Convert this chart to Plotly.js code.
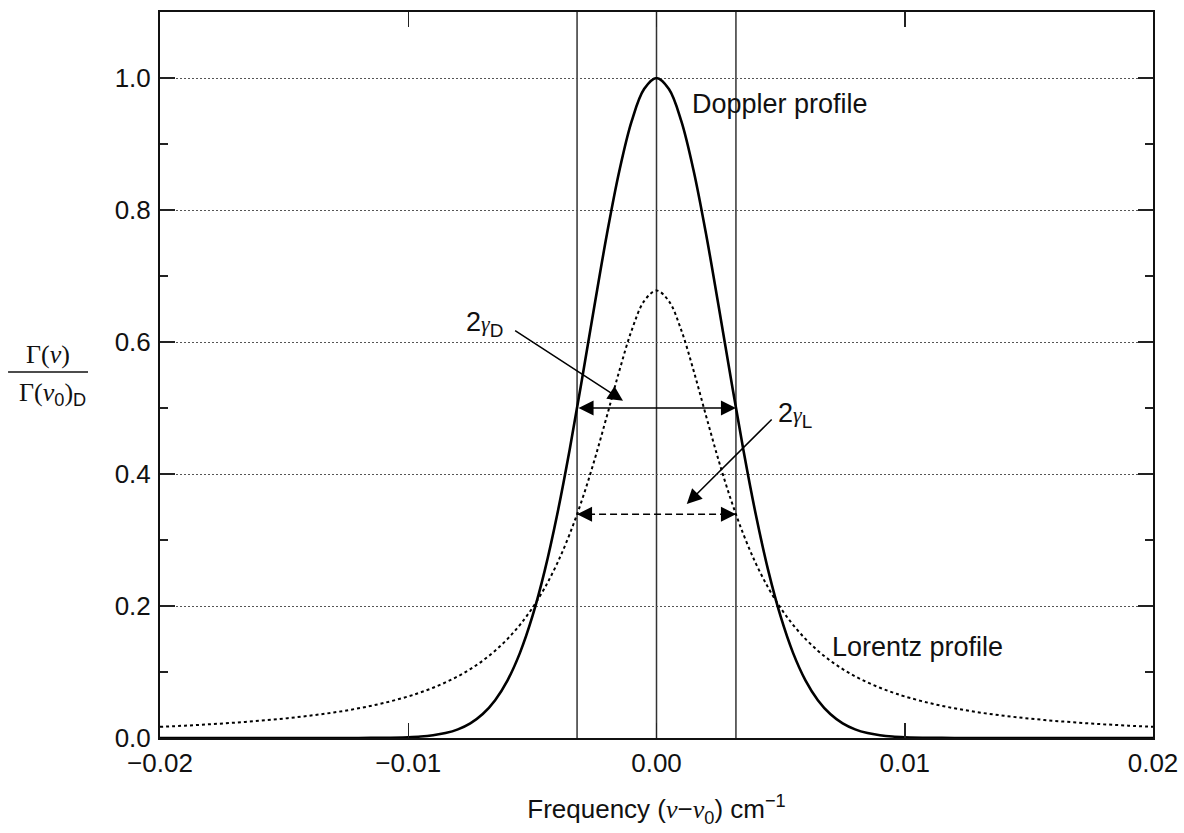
<!DOCTYPE html>
<html><head><meta charset="utf-8">
<script src="https://cdn.plot.ly/plotly-3.0.1.min.js"></script>
<style>html,body{margin:0;padding:0;background:#fff}</style>
</head><body><div id="chart" style="width:1184px;height:833px"></div>
<script>
// Frequency offset (nu - nu0), cm^-1 (finer sampling near line centre)
const freq = [-0.020,-0.019,-0.018,-0.017,-0.016,-0.015,-0.014,-0.013,-0.012,-0.011,
  -0.0100,-0.0095,-0.0090,-0.0085,-0.0080,-0.0075,-0.0070,-0.0065,-0.0060,-0.0055,
  -0.0050,-0.0045,-0.0040,-0.0035,-0.0030,-0.0025,-0.0020,-0.0015,-0.0010,-0.0005,
  0.0000,
  0.0005,0.0010,0.0015,0.0020,0.0025,0.0030,0.0035,0.0040,0.0045,0.0050,
  0.0055,0.0060,0.0065,0.0070,0.0075,0.0080,0.0085,0.0090,0.0095,0.0100,
  0.011,0.012,0.013,0.014,0.015,0.016,0.017,0.018,0.019,0.020];
// Doppler profile (normalised to its peak)
const doppler = [0,0,0,0,0,0,0,0,0.0001,0.0003,
  0.0012,0.0022,0.0042,0.0075,0.0131,0.0222,0.0363,0.0573,0.0874,0.1290,
  0.1841,0.2539,0.3386,0.4364,0.5438,0.6550,0.7628,0.8587,0.9346,0.9832,
  1.0000,
  0.9832,0.9346,0.8587,0.7628,0.6550,0.5438,0.4364,0.3386,0.2539,0.1841,
  0.1290,0.0874,0.0573,0.0363,0.0222,0.0131,0.0075,0.0042,0.0022,0.0012,
  0.0003,0.0001,0,0,0,0,0,0,0,0];
// Lorentz profile (same area, same half width)
const lorentz = [0.0169,0.0187,0.0208,0.0232,0.0261,0.0295,0.0337,0.0387,0.0450,0.0529,
  0.0630,0.0691,0.0761,0.0842,0.0935,0.1044,0.1172,0.1323,0.1501,0.1715,
  0.1970,0.2277,0.2646,0.3087,0.3608,0.4210,0.4876,0.5559,0.6177,0.6618,
  0.6780,
  0.6618,0.6177,0.5559,0.4876,0.4210,0.3608,0.3087,0.2646,0.2277,0.1970,
  0.1715,0.1501,0.1323,0.1172,0.1044,0.0935,0.0842,0.0761,0.0691,0.0630,
  0.0529,0.0450,0.0387,0.0337,0.0295,0.0261,0.0232,0.0208,0.0187,0.0169];
// Half widths and half maxima
const gammaD = 0.0032;
const gammaL = 0.0032;
const dopplerHalfMax = 0.5;
const lorentzHalfMax = 0.339;
const xTickVals = [-0.02,-0.01,0.00,0.01,0.02];
const yTickVals = [0.0,0.2,0.4,0.6,0.8,1.0];

const SANS = 'Liberation Sans, Arial, Helvetica, sans-serif';
const SERIF = 'Liberation Serif, Times New Roman, serif';
const FS = 26;
const LFS = 27;

const traces = [
  {x: freq, y: lorentz, mode: 'lines', line: {color: '#000', width: 2, dash: 'dot', shape: 'spline'}, name: 'Lorentz profile', hoverinfo: 'skip'},
  {x: freq, y: doppler, mode: 'lines', line: {color: '#000', width: 2.6, shape: 'spline'}, name: 'Doppler profile', hoverinfo: 'skip'},
  {x: [-gammaL, gammaL], y: [lorentzHalfMax, lorentzHalfMax], mode: 'lines', line: {color: '#000', width: 1.5, dash: '7px,4px'}, hoverinfo: 'skip', name: '2γL'}
];

const vline = (xv) => ({type: 'line', xref: 'x', yref: 'paper', x0: xv, x1: xv, y0: 0, y1: 1, line: {color: '#333', width: 1.5}, layer: 'below'});

const head = {text: '', showarrow: true, arrowhead: 2, arrowsize: 2, arrowwidth: 1.5, arrowcolor: '#000', standoff: 0, startstandoff: 0, xref: 'x', yref: 'y'};

const layout = {
  width: 1184, height: 833,
  margin: {l: 160, r: 31, t: 12, b: 95},
  paper_bgcolor: '#fff', plot_bgcolor: '#fff',
  showlegend: false,
  font: {family: SANS, size: FS, color: '#111'},
  xaxis: {
    range: [-0.02, 0.02], tickvals: xTickVals, tickformat: '.2f',
    ticks: 'inside', ticklen: 15, tickwidth: 1.5, tickcolor: '#222',
    showline: true, linecolor: '#111', linewidth: 2, mirror: 'ticks',
    showgrid: false, zeroline: false, ticklabelstandoff: 1,
    tickfont: {family: SANS, size: FS, color: '#111'},
    title: {text: 'Frequency (<span style="font-family:' + SERIF + '"><i>ν</i></span>−<span style="font-family:' + SERIF + '"><i>ν</i></span><sub>0</sub>) cm<sup>−1</sup>', font: {family: SANS, size: FS, color: '#111'}, standoff: 23}
  },
  yaxis: {
    range: [0, 1.1], tickvals: yTickVals, tickformat: '.1f',
    ticks: 'inside', ticklen: 15, tickwidth: 1.5, tickcolor: '#222',
    showline: true, linecolor: '#111', linewidth: 2, mirror: 'ticks',
    showgrid: true, gridcolor: '#555', gridwidth: 1, griddash: '2px,2px',
    zeroline: false, ticklabelstandoff: 2,
    tickfont: {family: SANS, size: FS, color: '#111'},
    minor: {dtick: 0.1, ticks: 'inside', ticklen: 8, tickwidth: 1.5, tickcolor: '#222', showgrid: false}
  },
  shapes: [
    vline(-gammaD), vline(0), vline(gammaD),
    {type: 'line', xref: 'paper', yref: 'paper', x0: -0.153, x1: -0.0725, y0: 0.504, y1: 0.504, line: {color: '#111', width: 1.5}}
  ],
  annotations: [
    // Doppler full width (solid, double headed)
    Object.assign({}, head, {x: gammaD, y: dopplerHalfMax, ax: -gammaD, ay: dopplerHalfMax, axref: 'x', ayref: 'y', arrowside: 'end+start'}),
    // Lorentz full width arrowheads (the dashed shaft is a trace)
    Object.assign({}, head, {x: -gammaL, y: lorentzHalfMax, ax: 13, ay: 0}),
    Object.assign({}, head, {x: gammaL, y: lorentzHalfMax, ax: -13, ay: 0}),
    // labelled pointer arrows
    {x: -0.00135, y: 0.511, ax: -0.0061, ay: 0.627, axref: 'x', ayref: 'y', xref: 'x', yref: 'y',
     text: '2<span style="font-family:' + SERIF + ';font-size:22px"><i>γ</i></span><sub>D</sub>',
     xanchor: 'right', yanchor: 'middle', showarrow: true, arrowhead: 2, arrowsize: 2, arrowwidth: 1.5, arrowcolor: '#000', standoff: 0, startstandoff: 12,
     font: {family: SANS, size: LFS, color: '#111'}},
    {x: 0.00122, y: 0.3545, ax: 0.00481, ay: 0.489, axref: 'x', ayref: 'y', xref: 'x', yref: 'y',
     text: '2<span style="font-family:' + SERIF + ';font-size:22px"><i>γ</i></span><sub>L</sub>',
     xanchor: 'left', yanchor: 'middle', showarrow: true, arrowhead: 2, arrowsize: 2, arrowwidth: 1.5, arrowcolor: '#000', standoff: 0, startstandoff: 6,
     font: {family: SANS, size: LFS, color: '#111'}},
    // profile labels
    {x: 0.00135, y: 0.961, xref: 'x', yref: 'y', text: 'Doppler profile', showarrow: false, xanchor: 'left', yanchor: 'middle', font: {family: SANS, size: LFS, color: '#111'}},
    {x: 0.00700, y: 0.138, xref: 'x', yref: 'y', text: 'Lorentz profile', showarrow: false, xanchor: 'left', yanchor: 'middle', font: {family: SANS, size: LFS, color: '#111'}},
    // y-axis fraction title
    {x: -0.1125, y: 0.528, xref: 'paper', yref: 'paper', text: 'Γ(<i>ν</i>)', showarrow: false, xanchor: 'center', yanchor: 'middle', font: {family: SERIF, size: FS, color: '#111'}},
    {x: -0.1085, y: 0.474, xref: 'paper', yref: 'paper', text: 'Γ(<i>ν</i><sub><span style="font-family:' + SANS + '">0</span></sub>)<sub><span style="font-family:' + SANS + '">D</span></sub>', showarrow: false, xanchor: 'center', yanchor: 'middle', font: {family: SERIF, size: FS, color: '#111'}}
  ]
};

Plotly.newPlot('chart', traces, layout, {displayModeBar: false, staticPlot: true});
</script>
</body></html>
